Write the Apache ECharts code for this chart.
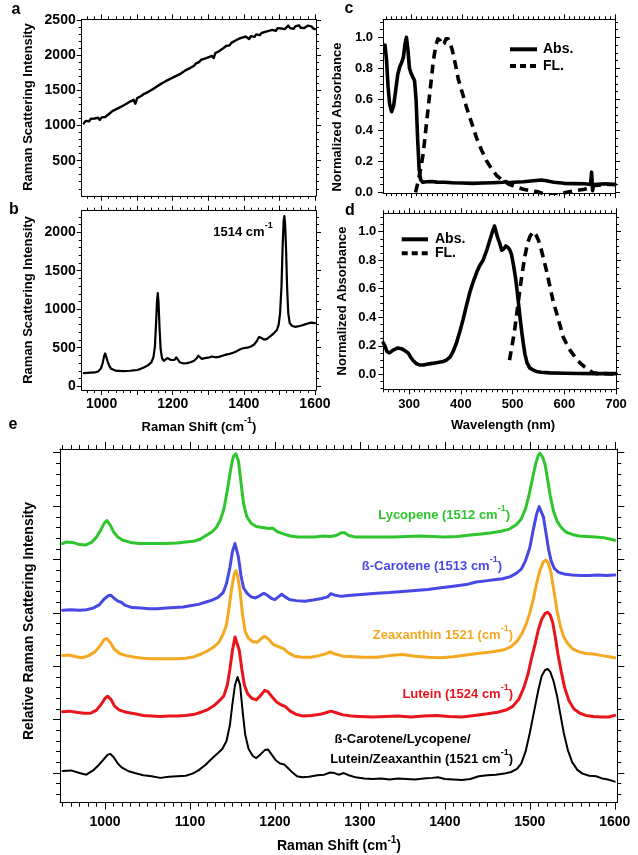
<!DOCTYPE html>
<html><head><meta charset="utf-8">
<script src="https://cdn.jsdelivr.net/npm/echarts@6/dist/echarts.min.js"></script>
<style>html,body{margin:0;padding:0;background:#fff}#c{width:638px;height:855px}</style>
</head><body><div id="c"></div>
<script>
const FONT = '"Liberation Sans", Arial, Helvetica, sans-serif';

// ---------- Panel a (noisy background) ----------
const A_X0 = 950, A_STEP = 5;
const A_Y = [1030,1065,1080,1060,1095,1075,1100,1085,1110,1080,1115,1090,1120,1135,1160,1170,1205,1190,1230,1215,1255,1245,1280,1270,1310,1300,1340,1325,1365,1310,1390,1400,1415,1440,1450,1470,1475,1500,1505,1525,1535,1560,1570,1585,1600,1610,1630,1640,1655,1665,1680,1690,1705,1725,1730,1755,1765,1780,1795,1800,1820,1840,1850,1880,1870,1905,1935,1915,1950,1930,1970,1945,1990,1960,2030,2040,2055,2080,2090,2115,2130,2155,2140,2175,2190,2205,2190,2230,2215,2250,2235,2265,2240,2230,2270,2285,2260,2295,2300,2285,2315,2300,2330,2310,2345,2330,2360,2370,2345,2385,2360,2380,2405,2370,2395,2420,2385,2405,2375,2410,2395,2425,2390,2410,2385,2400,2420,2395,2410,2380,2370];

// ---------- Panel b ----------
const B_X = [950,960,970,980,990,998,1003,1007,1010,1013,1017,1022,1027,1032,1040,1050,1060,1070,1080,1090,1100,1110,1120,1130,1140,1146,1150,1153,1156,1158,1160,1163,1166,1170,1175,1180,1185,1190,1195,1200,1205,1210,1214,1220,1230,1240,1250,1260,1267,1272,1276,1282,1290,1300,1310,1320,1330,1340,1350,1360,1370,1380,1390,1400,1410,1420,1430,1437,1443,1450,1457,1465,1475,1485,1493,1498,1502,1506,1509,1512,1514,1516,1519,1522,1525,1529,1535,1540,1545,1550,1560,1570,1580,1590,1600];
const B_Y = [170,172,175,178,190,230,300,390,425,400,320,260,225,210,200,198,195,197,200,205,210,225,245,270,310,380,520,800,1120,1210,1100,750,480,360,330,340,365,390,340,320,340,375,360,310,295,300,310,330,360,395,370,355,365,370,385,375,380,395,410,420,435,455,480,495,500,515,545,590,640,625,605,615,650,690,730,800,950,1300,1800,2150,2210,2120,1750,1250,950,820,785,775,770,775,785,800,815,825,820];

// ---------- Panel c ----------
const C_ABS_X = [248,251,254,257,261,265,269,273,277,281,284,287,290,293,296,299,302,306,309,312,315,318,322,330,340,350,365,380,400,420,440,460,480,486,488,490,500,520,540,555,565,580,600,620,640,652,654,656,658,660,680,700];
const C_ABS_Y = [0.95,0.85,0.68,0.57,0.52,0.56,0.66,0.76,0.81,0.84,0.87,0.95,1.0,0.92,0.8,0.77,0.76,0.72,0.6,0.35,0.15,0.08,0.065,0.068,0.07,0.066,0.065,0.062,0.06,0.058,0.06,0.062,0.065,0.07,0.06,0.062,0.065,0.068,0.075,0.08,0.075,0.065,0.058,0.056,0.055,0.05,0.13,0.01,0.05,0.055,0.055,0.05];
const C_FL_X = [308,313,318,323,328,333,338,343,348,352,356,360,364,368,372,376,380,386,392,400,408,418,428,438,448,458,467,480,493,506,520,535,546,560,575,590,605,620,640,650,660,680,700];
const C_FL_Y = [0,0.07,0.15,0.25,0.4,0.55,0.7,0.85,0.95,0.99,0.98,0.95,0.96,0.99,0.99,0.96,0.92,0.83,0.73,0.64,0.55,0.45,0.35,0.27,0.2,0.15,0.11,0.075,0.05,0.035,0.02,0.01,0.005,-0.01,-0.02,-0.015,0.0,0.01,0.02,0.03,0.045,0.05,0.05];

// ---------- Panel d ----------
const D_ABS_X = [250,253,257,262,267,272,278,285,292,298,303,308,314,321,328,334,342,350,358,366,372,379,385,391,398,404,410,417,423,430,436,443,450,456,461,465,468,471,475,479,483,487,491,495,498,502,506,509,512,515,518,521,524,528,533,540,546,555,572,600,630,660,700];
const D_ABS_Y = [0.22,0.2,0.16,0.15,0.165,0.175,0.185,0.18,0.165,0.15,0.12,0.095,0.075,0.065,0.065,0.07,0.075,0.08,0.085,0.09,0.1,0.12,0.16,0.215,0.3,0.38,0.47,0.57,0.64,0.71,0.76,0.8,0.87,0.94,1.0,1.04,1.0,0.96,0.92,0.87,0.88,0.9,0.89,0.87,0.84,0.76,0.67,0.58,0.48,0.38,0.29,0.21,0.14,0.08,0.045,0.03,0.02,0.015,0.01,0.008,0.006,0.005,0.005];
const D_FL_X = [494,499,504,509,514,519,524,529,534,540,545,550,555,560,566,572,578,585,592,598,605,611,617,625,632,640,648,656,665,675,690,700];
const D_FL_Y = [0.1,0.2,0.31,0.45,0.59,0.72,0.83,0.92,0.97,1.0,0.98,0.94,0.88,0.81,0.72,0.62,0.52,0.43,0.34,0.26,0.21,0.17,0.14,0.1,0.075,0.05,0.03,0.01,0.005,0.005,0.003,0.0];

// ---------- Panel e (offset spectra, arbitrary units) ----------
const E_MIX_X = [950,960,970,978,986,992,998,1003,1006,1010,1015,1020,1027,1035,1045,1055,1065,1075,1085,1095,1103,1110,1118,1125,1132,1138,1143,1147,1150,1153,1156,1159,1162,1165,1169,1174,1178,1183,1188,1192,1196,1201,1206,1211,1215,1220,1226,1232,1240,1250,1258,1265,1270,1275,1281,1287,1295,1305,1315,1325,1335,1345,1355,1365,1375,1385,1392,1400,1410,1420,1430,1440,1450,1460,1470,1478,1485,1490,1495,1500,1505,1510,1514,1518,1521,1524,1528,1532,1536,1540,1545,1550,1556,1562,1570,1578,1585,1592,1600];
const E_MIX_Y = [0.04,0.05,0.0,-0.03,0.05,0.14,0.25,0.34,0.36,0.3,0.18,0.1,0.04,0.0,-0.04,-0.06,-0.09,-0.07,-0.06,-0.05,-0.01,0.05,0.15,0.26,0.36,0.45,0.6,0.9,1.3,1.65,1.8,1.65,1.15,0.72,0.45,0.32,0.28,0.35,0.43,0.44,0.35,0.24,0.18,0.16,0.1,0.02,-0.06,-0.08,-0.07,-0.04,-0.03,0.01,0.0,-0.03,0.0,-0.04,-0.08,-0.1,-0.11,-0.1,-0.12,-0.1,-0.11,-0.12,-0.1,-0.09,-0.08,-0.11,-0.12,-0.13,-0.11,-0.06,-0.04,-0.03,-0.01,0.02,0.08,0.18,0.4,0.75,1.15,1.55,1.82,1.93,1.95,1.9,1.72,1.45,1.1,0.75,0.42,0.2,0.06,-0.01,-0.05,-0.06,-0.1,-0.12,-0.16];
const E_LUT_X = [950,958,966,975,983,990,996,1000,1003,1007,1011,1017,1025,1035,1045,1055,1065,1075,1085,1095,1105,1113,1121,1128,1135,1140,1144,1147,1150,1153,1155,1158,1161,1164,1168,1173,1178,1183,1188,1192,1197,1202,1207,1212,1218,1225,1233,1243,1253,1260,1266,1272,1280,1290,1300,1315,1330,1345,1360,1375,1390,1405,1420,1435,1450,1462,1472,1480,1487,1493,1498,1502,1506,1510,1514,1518,1521,1524,1527,1530,1533,1537,1541,1546,1552,1559,1566,1575,1585,1593,1600];
const E_LUT_Y = [1.15,1.16,1.14,1.12,1.12,1.18,1.3,1.4,1.44,1.38,1.26,1.18,1.14,1.11,1.08,1.07,1.06,1.07,1.07,1.08,1.1,1.14,1.19,1.26,1.36,1.45,1.65,1.95,2.3,2.55,2.58,2.3,1.95,1.65,1.48,1.4,1.37,1.45,1.55,1.52,1.42,1.33,1.28,1.25,1.16,1.1,1.07,1.08,1.1,1.13,1.16,1.13,1.09,1.07,1.06,1.05,1.06,1.07,1.05,1.07,1.08,1.06,1.05,1.08,1.11,1.14,1.18,1.25,1.38,1.6,1.86,2.15,2.4,2.68,2.88,2.99,3.01,2.96,2.82,2.55,2.24,1.9,1.6,1.36,1.2,1.12,1.08,1.06,1.05,1.05,1.08];
const E_ZEA_X = [950,958,966,973,981,988,994,999,1002,1006,1011,1017,1025,1035,1045,1055,1065,1075,1085,1095,1105,1113,1121,1128,1134,1139,1143,1146,1149,1152,1154,1156,1159,1162,1165,1169,1174,1179,1184,1188,1193,1198,1204,1210,1216,1223,1232,1242,1252,1259,1265,1271,1280,1292,1305,1320,1335,1350,1365,1380,1395,1410,1425,1438,1450,1460,1470,1478,1485,1491,1496,1500,1504,1508,1512,1516,1519,1522,1525,1528,1532,1536,1540,1545,1551,1558,1566,1575,1585,1593,1600];
const E_ZEA_Y = [2.2,2.21,2.18,2.16,2.2,2.27,2.38,2.5,2.52,2.45,2.32,2.24,2.2,2.17,2.15,2.14,2.14,2.14,2.14,2.15,2.18,2.23,2.29,2.36,2.45,2.6,2.78,3.1,3.45,3.72,3.79,3.7,3.4,2.95,2.65,2.52,2.46,2.45,2.52,2.56,2.5,2.41,2.37,2.33,2.25,2.19,2.17,2.17,2.2,2.23,2.27,2.23,2.19,2.18,2.17,2.17,2.2,2.22,2.19,2.17,2.16,2.18,2.21,2.24,2.26,2.28,2.31,2.37,2.47,2.62,2.8,3.0,3.25,3.55,3.8,3.96,3.99,3.93,3.75,3.45,3.05,2.75,2.55,2.42,2.32,2.27,2.24,2.23,2.2,2.18,2.16];
const E_BC_X = [950,960,970,978,986,993,999,1004,1007,1011,1015,1019,1024,1032,1042,1052,1062,1072,1082,1092,1102,1110,1118,1126,1133,1139,1143,1147,1150,1153,1155,1157,1160,1163,1167,1172,1177,1182,1187,1191,1196,1200,1204,1208,1212,1217,1225,1235,1245,1255,1262,1266,1271,1278,1290,1305,1320,1335,1350,1365,1380,1395,1410,1425,1437,1448,1458,1468,1477,1484,1490,1495,1500,1504,1508,1511,1513,1516,1519,1522,1525,1529,1534,1540,1550,1560,1570,1580,1590,1600];
const E_BC_Y = [3.05,3.06,3.05,3.06,3.09,3.15,3.26,3.32,3.33,3.27,3.22,3.2,3.14,3.1,3.09,3.08,3.08,3.09,3.1,3.11,3.14,3.16,3.2,3.24,3.29,3.38,3.55,3.85,4.15,4.3,4.31,4.05,3.7,3.47,3.37,3.3,3.28,3.32,3.37,3.33,3.27,3.25,3.3,3.35,3.3,3.25,3.23,3.22,3.24,3.27,3.3,3.36,3.33,3.31,3.33,3.35,3.37,3.38,3.4,3.42,3.44,3.47,3.5,3.53,3.58,3.6,3.62,3.64,3.68,3.74,3.82,3.98,4.22,4.55,4.85,4.99,5.0,4.8,4.5,4.2,3.98,3.83,3.76,3.73,3.71,3.7,3.7,3.71,3.7,3.71];
const E_LYC_X = [950,955,962,970,977,984,990,995,999,1002,1006,1010,1015,1021,1030,1040,1050,1060,1072,1085,1095,1104,1112,1119,1126,1131,1136,1140,1144,1148,1151,1154,1157,1160,1163,1167,1172,1178,1185,1193,1197,1203,1210,1218,1227,1237,1247,1257,1265,1272,1278,1282,1287,1295,1310,1325,1340,1355,1370,1385,1400,1415,1430,1443,1455,1466,1476,1484,1490,1495,1499,1503,1507,1510,1512,1515,1518,1521,1524,1528,1532,1537,1543,1550,1558,1567,1577,1587,1595,1600];
const E_LYC_Y = [4.3,4.33,4.32,4.28,4.27,4.32,4.42,4.55,4.68,4.73,4.65,4.52,4.42,4.36,4.32,4.3,4.3,4.3,4.3,4.31,4.33,4.34,4.38,4.45,4.52,4.6,4.75,4.95,5.3,5.7,5.93,5.98,5.85,5.45,5.05,4.8,4.68,4.62,4.6,4.58,4.59,4.52,4.48,4.44,4.42,4.42,4.42,4.44,4.43,4.45,4.5,4.5,4.45,4.42,4.42,4.42,4.42,4.43,4.44,4.43,4.42,4.43,4.46,4.48,4.5,4.53,4.57,4.65,4.76,4.95,5.2,5.5,5.8,5.95,5.99,5.92,5.78,5.5,5.2,4.9,4.72,4.6,4.51,4.47,4.44,4.43,4.42,4.41,4.38,4.36];

// ---------- Tick labels ----------
const AB_X_LABELS = [1000,1200,1400,1600];
const A_Y_LABELS = [500,1000,1500,2000,2500];
const B_Y_LABELS = [0,500,1000,1500,2000];
const CD_Y_LABELS = [0,0.2,0.4,0.6,0.8,1.0];
const D_X_LABELS = [300,400,500,600,700];
const E_X_LABELS = [1000,1100,1200,1300,1400,1500,1600];

const C_GREEN = '#2ec52e', C_BLUE = '#4848e4', C_ORANGE = '#f5a821', C_RED = '#e8161c';

function zip(xs, ys){ return xs.map((x,i)=>[x, ys[i]]); }
function steps(a, b, s){ const o=[]; for(let k=0; a+k*s <= b+1e-9; k++) o.push(+(a+k*s).toFixed(4)); return o; }

const PANELS = [
  {grid:{left:81.7, top:19.3, width:234.3, height:176.5}, x:[944,1603], y:[0,2510],
   xMaj:steps(1000,1600,100), xMin:steps(960,1600,20), yMaj:steps(500,2500,500), yMin:steps(100,2500,100),
   xLab:null, yLab:A_Y_LABELS, fs:14, xMargin:7, yMargin:6, majLen:5, minLen:3},
  {grid:{left:81.7, top:210.7, width:234.3, height:179.3}, x:[944,1603], y:[-50,2280],
   xMaj:steps(1000,1600,100), xMin:steps(960,1600,20), yMaj:steps(0,2000,500), yMin:steps(0,2200,100),
   xLab:AB_X_LABELS, yLab:B_Y_LABELS, fs:14, xMargin:7, yMargin:6, majLen:5, minLen:3},
  {grid:{left:383, top:19.3, width:232, height:173.8}, x:[244,700], y:[-0.005,1.116],
   xMaj:steps(300,700,100), xMin:steps(250,700,10), yMaj:steps(0,1,0.2), yMin:steps(0,1.1,0.05),
   xLab:null, yLab:CD_Y_LABELS, yFmt:v=>Number(v).toFixed(1), fs:13, xMargin:8, yMargin:10, majLen:5, minLen:3},
  {grid:{left:383.3, top:213.3, width:232.7, height:176}, x:[250,700], y:[-0.105,1.129],
   xMaj:steps(300,700,100), xMin:steps(250,700,10), yMaj:steps(0,1,0.2), yMin:steps(-0.1,1.1,0.05),
   xLab:D_X_LABELS, yLab:CD_Y_LABELS, yFmt:v=>Number(v).toFixed(1), fs:13, xMargin:9, yMargin:7, majLen:5, minLen:3},
  {grid:{left:60, top:449, width:557.3, height:353.7}, x:[947,1603], y:[-0.555,6.07],
   xMaj:steps(1000,1600,100), xMin:steps(950,1600,10), yMaj:steps(0,6,1), yMin:steps(-0.4,6,0.2),
   xLab:E_X_LABELS, yLab:null, fs:14, xMargin:12, yMargin:6, majLen:7, minLen:4}
];

const grids = [], xAxis = [], yAxis = [], mainX = [], mainY = [];
PANELS.forEach((P, g) => {
  grids.push(Object.assign({containLabel:false, outerBoundsMode:'none'}, P.grid));
  const base = (o) => Object.assign({gridIndex:g, type:'value', silent:true, splitLine:{show:false}, splitArea:{show:false}}, o);
  const line = (show) => ({show, onZero:false, lineStyle:{color:'#000', width:1}});
  const tick = (vals, len) => ({show:true, inside:false, length:len, customValues:vals, lineStyle:{color:'#000', width:1}});
  const lab = (vals, fmt, margin) => vals ? {show:true, customValues:vals, margin, color:'#000', fontSize:P.fs, fontWeight:'bold', fontFamily:FONT, formatter: fmt || (v=>String(v))} : {show:false};
  ['bottom','top'].forEach((pos,k) => {
    if (k===0) mainX[g] = xAxis.length;
    xAxis.push(base({position:pos, min:P.x[0], max:P.x[1], axisLine:line(true), axisTick:tick(P.xMaj, P.majLen), axisLabel: k===0 ? lab(P.xLab, P.xFmt, P.xMargin) : {show:false}}));
    xAxis.push(base({position:pos, min:P.x[0], max:P.x[1], axisLine:line(false), axisTick:tick(P.xMin, P.minLen), axisLabel:{show:false}}));
  });
  ['left','right'].forEach((pos,k) => {
    if (k===0) mainY[g] = yAxis.length;
    yAxis.push(base({position:pos, min:P.y[0], max:P.y[1], axisLine:line(true), axisTick:tick(P.yMaj, P.majLen), axisLabel: k===0 ? lab(P.yLab, P.yFmt, P.yMargin) : {show:false}}));
    yAxis.push(base({position:pos, min:P.y[0], max:P.y[1], axisLine:line(false), axisTick:tick(P.yMin, P.minLen), axisLabel:{show:false}}));
  });
});

function ser(g, name, data, color, width, dash) {
  return {type:'line', name, xAxisIndex:mainX[g], yAxisIndex:mainY[g], data, symbol:'none', showSymbol:false,
    silent:true, animation:false, clip:true,
    lineStyle:{color, width, type: dash || 'solid', join:'round', cap: dash ? 'butt' : 'round'}, itemStyle:{color}};
}

const DASH = [9,6];
const series = [
  ser(0, 'bg', A_Y.map((v,i)=>[A_X0 + A_STEP*i, v]), '#000', 2.4),
  ser(1, 'spec', zip(B_X, B_Y), '#000', 2.2),
  ser(2, 'Abs.', zip(C_ABS_X, C_ABS_Y), '#000', 3.6),
  ser(2, 'FL.', zip(C_FL_X, C_FL_Y), '#000', 3.6, DASH),
  ser(3, 'Abs.', zip(D_ABS_X, D_ABS_Y), '#000', 3.6),
  ser(3, 'FL.', zip(D_FL_X, D_FL_Y), '#000', 3.6, DASH),
  ser(4, 'mix', zip(E_MIX_X, E_MIX_Y), '#000', 2),
  ser(4, 'lut', zip(E_LUT_X, E_LUT_Y), C_RED, 3),
  ser(4, 'zea', zip(E_ZEA_X, E_ZEA_Y), C_ORANGE, 3),
  ser(4, 'bc', zip(E_BC_X, E_BC_Y), C_BLUE, 3),
  ser(4, 'lyc', zip(E_LYC_X, E_LYC_Y), C_GREEN, 3)
];

function rich(fs, color) {
  return {
    m:{fontSize:fs, fontWeight:'bold', fontFamily:FONT, fill:color, lineHeight:fs+4, verticalAlign:'bottom'},
    s:{fontSize:Math.round(fs*0.7), fontWeight:'bold', fontFamily:FONT, fill:color, lineHeight:10, verticalAlign:'top'}
  };
}
function txt(x, y, text, fs, opt) {
  opt = opt || {};
  const color = opt.color || '#000';
  return {type:'text', x, y, z:100, rotation: opt.rot || 0, silent:true,
    style:{text, fill:color, font:'bold ' + fs + 'px ' + FONT, align: opt.align || 'center', verticalAlign:'middle', rich: rich(fs, color)}};
}
function legLine(x1, x2, y, dash) {
  return {type:'line', z:100, silent:true, shape:{x1, y1:y, x2, y2:y},
    style:{stroke:'#000', lineWidth:4, lineDash: dash || null, lineCap:'butt'}};
}
const V = Math.PI/2;
const graphic = [
  txt(16, 10, 'a', 16), txt(14, 210, 'b', 16), txt(349, 9, 'c', 16), txt(350, 211, 'd', 16), txt(13, 425, 'e', 16),
  txt(28, 107, 'Raman Scattering Intensity', 13, {rot:V}),
  txt(28, 300, 'Raman Scattering Intensity', 13, {rot:V}),
  txt(337.5, 117, 'Normalized Absorbance', 13, {rot:V}),
  txt(342.5, 301, 'Normalized Absorbance', 13, {rot:V}),
  txt(29, 621, 'Relative Raman Scattering Intensity', 14, {rot:V}),
  txt(199, 425, '{m|Raman Shift (cm}{s|-1}{m|)}', 13),
  txt(503, 425, 'Wavelength (nm)', 13),
  txt(339, 844, '{m|Raman Shift (cm}{s|-1}{m|)}', 14),
  txt(243, 230, '{m|1514 cm}{s|-1}', 13),
  txt(510, 513, '{m|Lycopene (1512 cm}{s|-1}{m|)}', 13, {align:'right', color:C_GREEN}),
  txt(502, 564, '{m|ß-Carotene (1513 cm}{s|-1}{m|)}', 13, {align:'right', color:C_BLUE}),
  txt(513, 633, '{m|Zeaxanthin 1521 (cm}{s|-1}{m|)}', 13, {align:'right', color:C_ORANGE}),
  txt(513, 692, '{m|Lutein (1524 cm}{s|-1}{m|)}', 13, {align:'right', color:C_RED}),
  txt(402.5, 737, '{m|ß-Carotene/Lycopene/}', 13),
  txt(513, 757, '{m|Lutein/Zeaxanthin (1521 cm}{s|-1}{m|)}', 13, {align:'right'}),
  // legends
  legLine(510, 537, 49.3), txt(543, 49.3, 'Abs.', 14, {align:'left'}),
  legLine(510, 537, 66, [6,4]), txt(543, 66, 'FL.', 14, {align:'left'}),
  legLine(401.7, 428, 239.3), txt(435, 239.3, 'Abs.', 14, {align:'left'}),
  legLine(401.7, 428, 253.3, [6,4]), txt(435, 253.3, 'FL.', 14, {align:'left'})
];

const chart = echarts.init(document.getElementById('c'), null, {renderer:'canvas'});
chart.setOption({
  animation:false,
  backgroundColor:'#fff',
  textStyle:{fontFamily:FONT},
  grid: grids,
  xAxis, yAxis, series, graphic
});
</script></body></html>
